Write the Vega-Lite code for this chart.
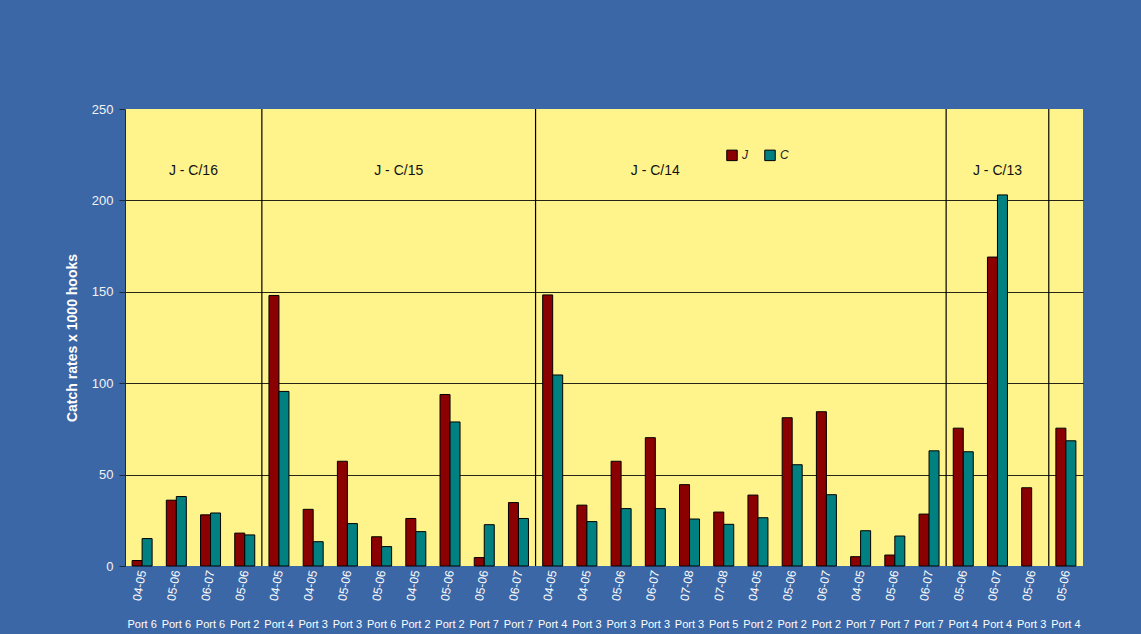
{
  "$schema": "https://vega.github.io/schema/vega-lite/v6.json",
  "width": 958,
  "height": 457,
  "autosize": {"type": "none"},
  "padding": {"left": 125, "top": 109, "right": 58, "bottom": 68},
  "background": "#3b67a6",
  "config": {
    "view": {"stroke": null, "fill": "#fff48c"},
    "font": "Liberation Sans"
  },
  "datasets": {
    "bars": [
      {"cat": "04-05|Port 6|01", "series": "J", "value": 3},
      {"cat": "04-05|Port 6|01", "series": "C", "value": 15},
      {"cat": "05-06|Port 6|02", "series": "J", "value": 36},
      {"cat": "05-06|Port 6|02", "series": "C", "value": 38},
      {"cat": "06-07|Port 6|03", "series": "J", "value": 28},
      {"cat": "06-07|Port 6|03", "series": "C", "value": 29},
      {"cat": "05-06|Port 2|04", "series": "J", "value": 18},
      {"cat": "05-06|Port 2|04", "series": "C", "value": 17},
      {"cat": "04-05|Port 4|05", "series": "J", "value": 148},
      {"cat": "04-05|Port 4|05", "series": "C", "value": 95.5},
      {"cat": "04-05|Port 3|06", "series": "J", "value": 31},
      {"cat": "04-05|Port 3|06", "series": "C", "value": 13.3},
      {"cat": "05-06|Port 3|07", "series": "J", "value": 57.3},
      {"cat": "05-06|Port 3|07", "series": "C", "value": 23.2},
      {"cat": "05-06|Port 6|08", "series": "J", "value": 16},
      {"cat": "05-06|Port 6|08", "series": "C", "value": 10.6},
      {"cat": "04-05|Port 2|09", "series": "J", "value": 26},
      {"cat": "04-05|Port 2|09", "series": "C", "value": 18.8},
      {"cat": "05-06|Port 2|10", "series": "J", "value": 93.8},
      {"cat": "05-06|Port 2|10", "series": "C", "value": 78.8},
      {"cat": "05-06|Port 7|11", "series": "J", "value": 4.6},
      {"cat": "05-06|Port 7|11", "series": "C", "value": 22.6},
      {"cat": "06-07|Port 7|12", "series": "J", "value": 34.7},
      {"cat": "06-07|Port 7|12", "series": "C", "value": 26},
      {"cat": "04-05|Port 4|13", "series": "J", "value": 148.3},
      {"cat": "04-05|Port 4|13", "series": "C", "value": 104.5},
      {"cat": "04-05|Port 3|14", "series": "J", "value": 33.3},
      {"cat": "04-05|Port 3|14", "series": "C", "value": 24.3},
      {"cat": "05-06|Port 3|15", "series": "J", "value": 57.3},
      {"cat": "05-06|Port 3|15", "series": "C", "value": 31.4},
      {"cat": "06-07|Port 3|16", "series": "J", "value": 70.2},
      {"cat": "06-07|Port 3|16", "series": "C", "value": 31.4},
      {"cat": "07-08|Port 3|17", "series": "J", "value": 44.5},
      {"cat": "07-08|Port 3|17", "series": "C", "value": 25.7},
      {"cat": "07-08|Port 5|18", "series": "J", "value": 29.5},
      {"cat": "07-08|Port 5|18", "series": "C", "value": 22.8},
      {"cat": "04-05|Port 2|19", "series": "J", "value": 38.8},
      {"cat": "04-05|Port 2|19", "series": "C", "value": 26.4},
      {"cat": "05-06|Port 2|20", "series": "J", "value": 81.1},
      {"cat": "05-06|Port 2|20", "series": "C", "value": 55.4},
      {"cat": "06-07|Port 2|21", "series": "J", "value": 84.4},
      {"cat": "06-07|Port 2|21", "series": "C", "value": 39},
      {"cat": "04-05|Port 7|22", "series": "J", "value": 5.1},
      {"cat": "04-05|Port 7|22", "series": "C", "value": 19.3},
      {"cat": "05-06|Port 7|23", "series": "J", "value": 6},
      {"cat": "05-06|Port 7|23", "series": "C", "value": 16.4},
      {"cat": "06-07|Port 7|24", "series": "J", "value": 28.4},
      {"cat": "06-07|Port 7|24", "series": "C", "value": 63},
      {"cat": "05-06|Port 4|25", "series": "J", "value": 75.4},
      {"cat": "05-06|Port 4|25", "series": "C", "value": 62.5},
      {"cat": "06-07|Port 4|26", "series": "J", "value": 169},
      {"cat": "06-07|Port 4|26", "series": "C", "value": 203},
      {"cat": "05-06|Port 3|27", "series": "J", "value": 42.8},
      {"cat": "05-06|Port 4|28", "series": "J", "value": 75.4},
      {"cat": "05-06|Port 4|28", "series": "C", "value": 68.5}
    ],
    "separators": [
      {"cat": "04-05|Port 4|05"},
      {"cat": "04-05|Port 4|13"},
      {"cat": "05-06|Port 4|25"},
      {"cat": "05-06|Port 4|28"}
    ],
    "labelsEdge": [
      {"cat": "06-07|Port 6|03", "label": "J - C/16", "level": 216},
      {"cat": "04-05|Port 2|09", "label": "J - C/15", "level": 216}
    ],
    "labelsMid": [
      {"cat": "06-07|Port 3|16", "label": "J - C/14", "level": 216},
      {"cat": "06-07|Port 4|26", "label": "J - C/13", "level": 216}
    ]
  },
  "resolve": {"axis": {"x": "independent"}},
  "layer": [
    {
      "data": {"name": "bars"},
      "mark": {"type": "bar", "stroke": "#000000", "strokeWidth": 1},
      "encoding": {
        "x": {
          "field": "cat", "type": "nominal", "sort": null,
          "scale": {"paddingInner": 0, "paddingOuter": 0},
          "axis": {
            "orient": "bottom",
            "title": null,
            "labelExpr": "split(datum.value, '|')[0]",
            "labelAngle": -80,
            "labelColor": "#ffffff",
            "labelFontSize": 12,
            "labelPadding": 4,
            "ticks": false,
            "domain": false
          }
        },
        "xOffset": {
          "field": "series", "type": "nominal",
          "scale": {"domain": ["J", "C"], "paddingInner": 0, "paddingOuter": 0.71}
        },
        "y": {
          "field": "value", "type": "quantitative",
          "scale": {"domain": [0, 250], "nice": false},
          "axis": {
            "title": "Catch rates x 1000 hooks",
            "titleColor": "#ffffff",
            "titleFontSize": 14,
            "titleFontWeight": "bold",
            "titlePadding": 12,
            "values": [0, 50, 100, 150, 200, 250],
            "labelColor": "#f2f2f2",
            "labelFontSize": 13,
            "labelPadding": 6,
            "tickColor": "#1a2a40",
            "tickSize": 6,
            "domainColor": "#1a2a40",
            "grid": true,
            "gridColor": {"condition": {"test": "datum.value == 0 || datum.value == 250", "value": "transparent"}, "value": "#000000"},
            "gridOpacity": 0.85
          }
        },
        "color": {
          "field": "series", "type": "nominal",
          "scale": {"domain": ["J", "C"], "range": ["#8b0000", "#008080"]},
          "legend": {
            "title": null,
            "orient": "none",
            "legendX": 601,
            "legendY": 40,
            "direction": "horizontal",
            "symbolType": "square",
            "symbolSize": 110,
            "symbolStrokeColor": "#000000",
            "symbolStrokeWidth": 1,
            "symbolOpacity": 1,
            "labelFontSize": 12,
            "labelFontStyle": "italic",
            "labelColor": "#222222",
            "columnPadding": 14
          }
        }
      }
    },
    {
      "data": {"name": "separators"},
      "mark": {"type": "rule", "color": "#000000", "strokeWidth": 1.2},
      "encoding": {
        "x": {
          "field": "cat", "type": "nominal", "sort": null, "bandPosition": 0,
          "axis": {
            "orient": "bottom",
            "title": null,
            "labelExpr": "split(datum.value, '|')[1]",
            "labelAngle": 0,
            "labelColor": "#ffffff",
            "labelFontSize": 11,
            "labelPadding": 0,
            "labelBaseline": "top",
            "offset": 52,
            "ticks": false,
            "domain": false
          }
        }
      }
    },
    {
      "data": {"name": "labelsEdge"},
      "mark": {"type": "text", "fontSize": 14, "color": "#111111"},
      "encoding": {
        "x": {"field": "cat", "type": "nominal", "sort": null, "bandPosition": 0, "axis": null},
        "y": {"field": "level", "type": "quantitative"},
        "text": {"field": "label"}
      }
    },
    {
      "data": {"name": "labelsMid"},
      "mark": {"type": "text", "fontSize": 14, "color": "#111111"},
      "encoding": {
        "x": {"field": "cat", "type": "nominal", "sort": null, "axis": null},
        "y": {"field": "level", "type": "quantitative"},
        "text": {"field": "label"}
      }
    }
  ]
}
